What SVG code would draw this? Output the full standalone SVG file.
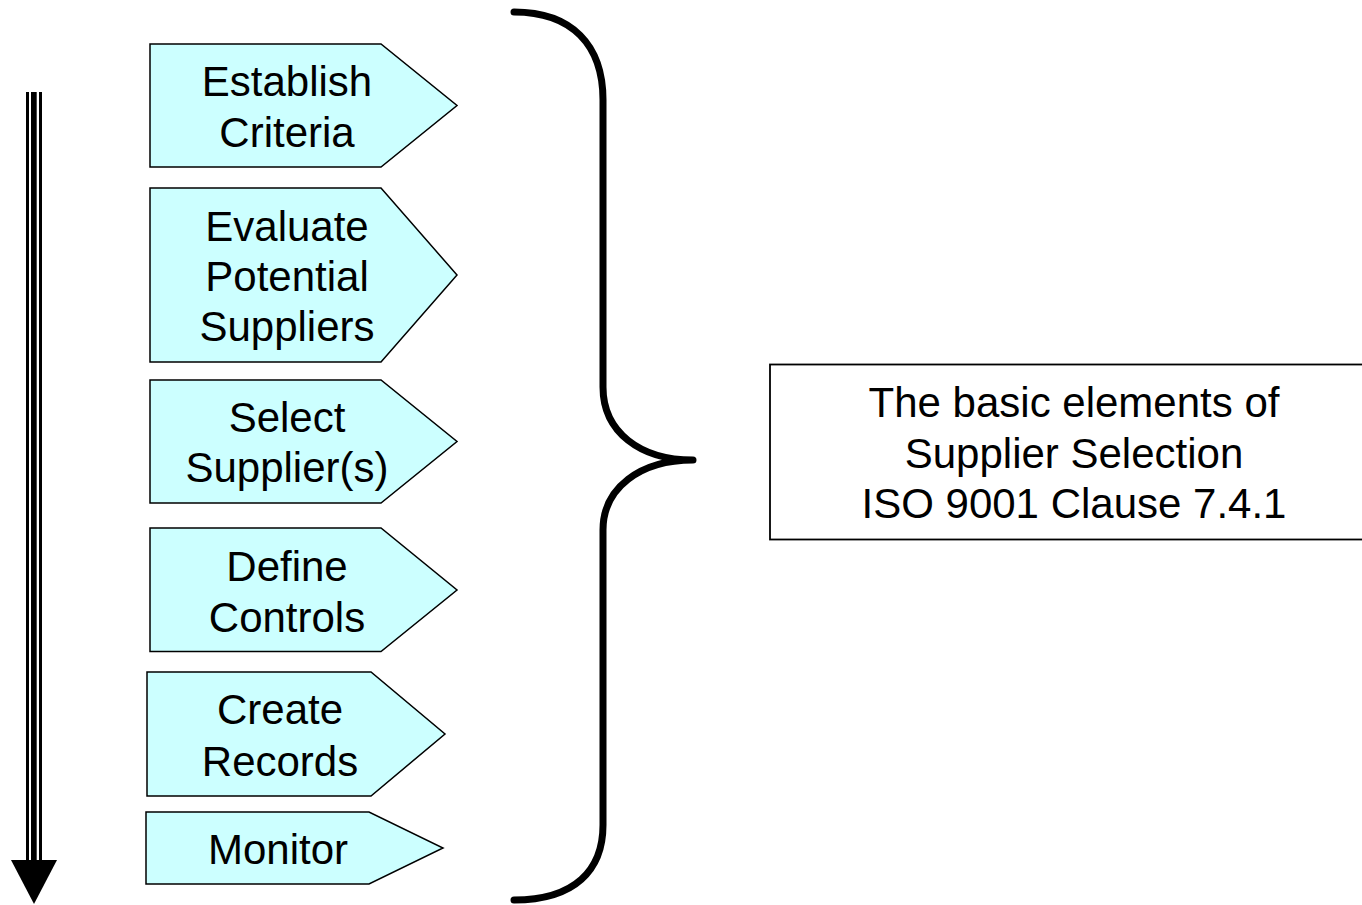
<svg xmlns="http://www.w3.org/2000/svg" width="1362" height="905" viewBox="0 0 1362 905">
  <style>
    .step { fill: #CCFFFF; stroke: #000000; stroke-width: 1.5; stroke-linejoin: miter; }
    .label { font-family: "Liberation Sans", Arial, sans-serif; font-size: 42px; fill: #000000; text-anchor: middle; }
    .brace { fill: none; stroke: #000000; stroke-width: 7; stroke-linecap: round; }
    .note { fill: #FFFFFF; stroke: #000000; stroke-width: 1.8; }
  </style>
  <rect width="1362" height="905" fill="#FFFFFF"/>

  <!-- process-flow arrow: triple shaft with solid head -->
  <g id="flow-arrow">
    <rect x="26" y="92" width="3" height="768" fill="#000000"/>
    <rect x="31" y="92" width="5.7" height="768" fill="#000000"/>
    <rect x="39" y="92" width="3" height="768" fill="#000000"/>
    <polygon points="11,860 57,860 34,904" fill="#000000"/>
  </g>

  <g id="step-establish">
    <polygon class="step" points="150,44 381,44 457,105.5 381,167 150,167"/>
    <text class="label" x="287" y="96">Establish</text>
    <text class="label" x="287" y="147">Criteria</text>
  </g>

  <g id="step-evaluate">
    <polygon class="step" points="150,188 381,188 457,275 381,362 150,362"/>
    <text class="label" x="287" y="240.5">Evaluate</text>
    <text class="label" x="287" y="291">Potential</text>
    <text class="label" x="287" y="341">Suppliers</text>
  </g>

  <g id="step-select">
    <polygon class="step" points="150,380 381,380 457,441.5 381,503 150,503"/>
    <text class="label" x="287" y="432">Select</text>
    <text class="label" x="287" y="482">Supplier(s)</text>
  </g>

  <g id="step-define">
    <polygon class="step" points="150,528 381,528 457,590 381,651.5 150,651.5"/>
    <text class="label" x="287" y="580.5">Define</text>
    <text class="label" x="287" y="632">Controls</text>
  </g>

  <g id="step-create">
    <polygon class="step" points="147,672 371,672 445,734 371,796 147,796"/>
    <text class="label" x="280" y="724">Create</text>
    <text class="label" x="280" y="776">Records</text>
  </g>

  <g id="step-monitor">
    <polygon class="step" points="146,812 369,812 443,848 369,884 146,884"/>
    <text class="label" x="278" y="864">Monitor</text>
  </g>

  <!-- curly brace grouping all steps -->
  <g id="connectors">
    <path class="brace" d="M514,12 C572,12 603,45 603,100 L603,387 C603,432 640,460 693,460 M693,460 C640,460 603,488 603,530 L603,825 C603,870 575,900 514,900"/>
  </g>

  <g id="summary-box">
    <rect class="note" x="770" y="364.5" width="600" height="175"/>
    <text class="label" x="1074" y="417">The basic elements of</text>
    <text class="label" x="1074" y="468">Supplier Selection</text>
    <text class="label" x="1074" y="518">ISO 9001 Clause 7.4.1</text>
  </g>
</svg>
